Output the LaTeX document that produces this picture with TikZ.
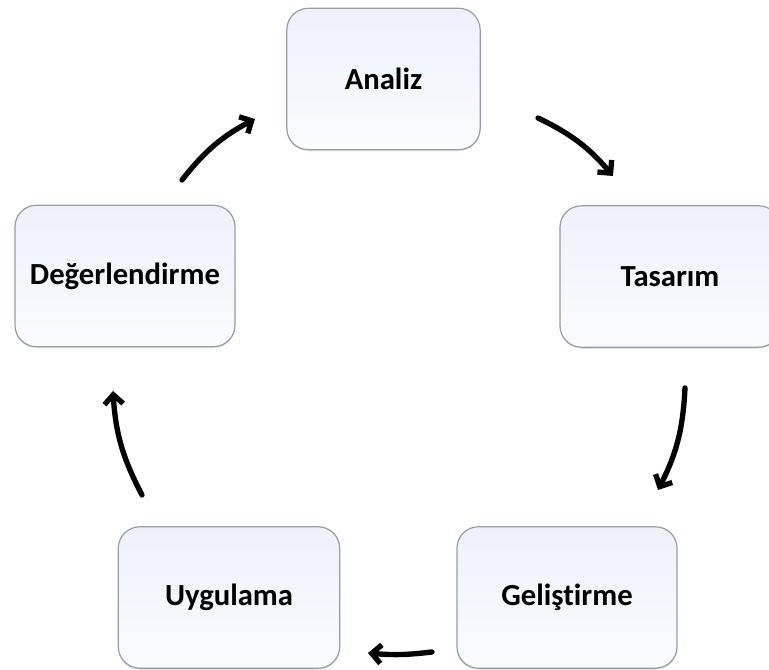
\documentclass[tikz,border=0pt]{standalone}
\usepackage{fontspec}
\setmainfont{Carlito}[Ligatures=NoCommon]
\usetikzlibrary{arrows.meta,shadows}

\definecolor{boxtop}{RGB}{238,241,250}
\definecolor{boxbot}{RGB}{250,251,255}
\definecolor{boxline}{RGB}{150,156,168}

\begin{document}
\begin{tikzpicture}[x=0.75pt, y=0.75pt,
    phase/.style={draw=boxline, line width=0.9pt, rounded corners=16pt,
      top color=boxtop, bottom color=boxbot,
      drop shadow={shadow xshift=0pt, shadow yshift=-1.2pt, opacity=0.2},
      anchor=center, text centered,
      minimum width=165pt, minimum height=106pt,
      font=\fontsize{23}{27}\selectfont\bfseries},
    cycle/.style={draw, line width=4pt, line cap=round,
      -{Straight Barb[length=7pt, width=14pt, line width=4pt]}, bend left=12}
    ]
  \useasboundingbox (0,0) rectangle (769,670);
  \clip (0,0) rectangle (769,670);

  % phases
  \node (analiz) [phase, minimum width=145pt] at (383.5,591) {Analiz};
  \node (tasarim) [phase] at (670,393.5) {Tasarım};
  \node (gelistirme) [phase] at (567,72.5) {Geliştirme};
  \node (uygulama) [phase, minimum width=166pt] at (229,72.5) {Uygulama};
  \node (degerlendirme) [phase] at (125,394) {Değerlendirme};

  % arrow ends
  \coordinate (a-1-s) at (538,552);
  \coordinate (a-1-e) at (613,494);
  \coordinate (a-2-s) at (685,282);
  \coordinate (a-2-e) at (658,180);
  \coordinate (a-3-s) at (432,18);
  \coordinate (a-3-e) at (368,17);
  \coordinate (a-4-s) at (142,175);
  \coordinate (a-4-e) at (113,279);
  \coordinate (a-5-s) at (182,490);
  \coordinate (a-5-e) at (255,551);

  {
      \draw[cycle] (a-1-s) to (a-1-e);
      \draw[cycle] (a-2-s) to (a-2-e);
      \draw[cycle, bend left=6] (a-3-s) to (a-3-e);
      \draw[cycle] (a-4-s) to (a-4-e);
      \draw[cycle] (a-5-s) to (a-5-e);
  };
\end{tikzpicture}
\end{document}
